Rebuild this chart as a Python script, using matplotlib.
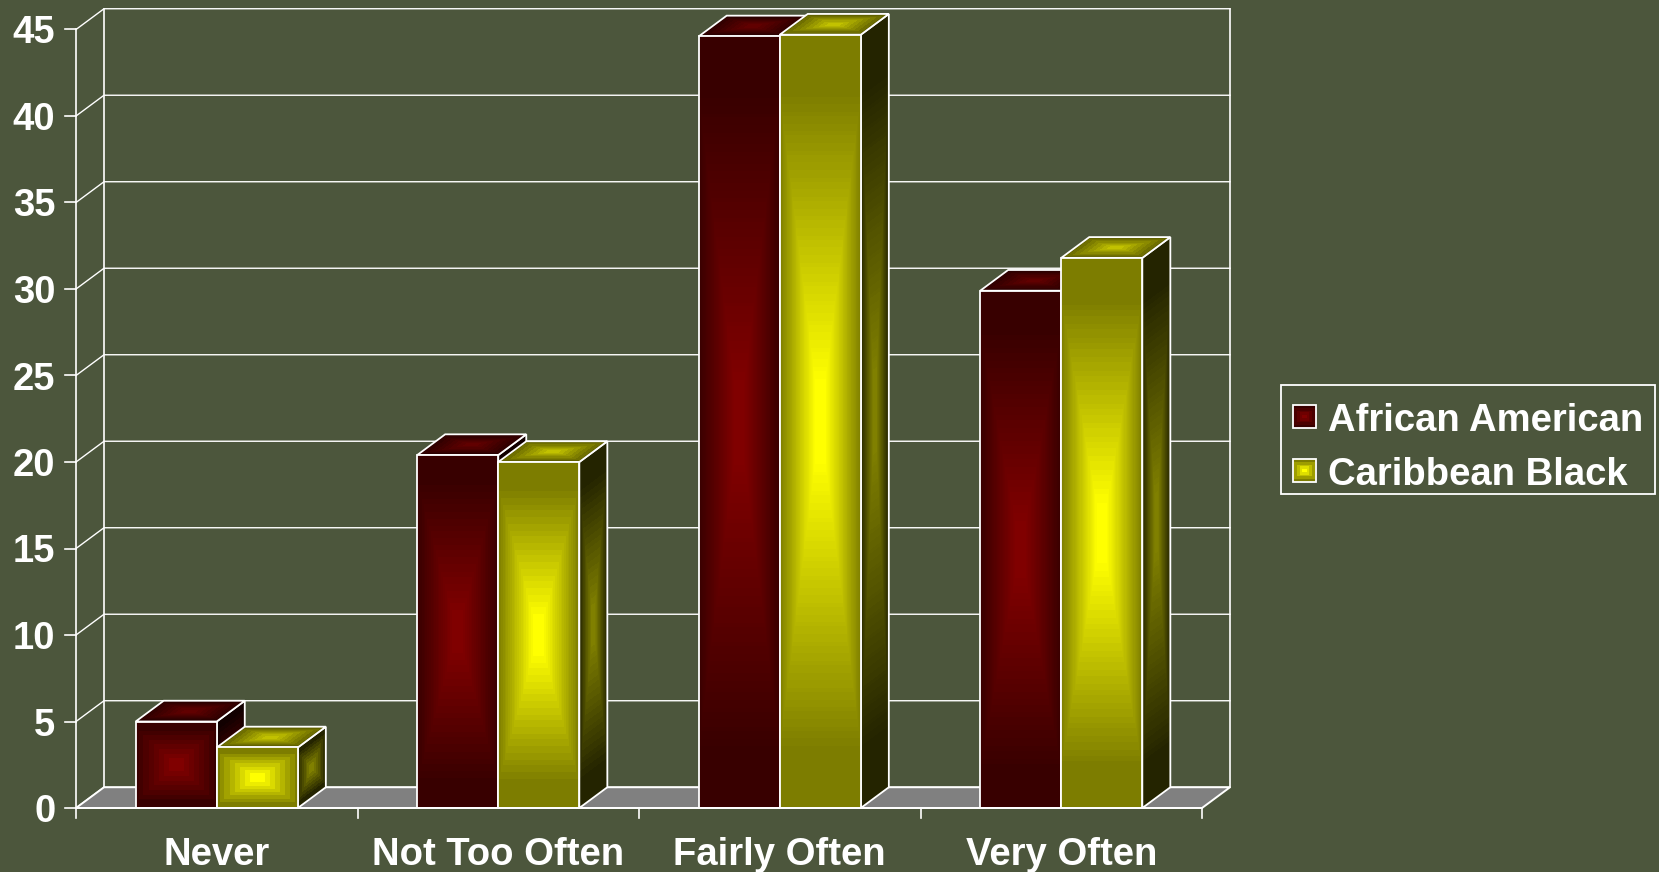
import numpy as np
import matplotlib
matplotlib.use("Agg")
import matplotlib.pyplot as plt
from matplotlib.patches import Polygon, Rectangle

plt.rcParams['font.family'] = ['Liberation Sans', 'DejaVu Sans']

# data
categories = ["Never", "Not Too Often", "Fairly Often", "Very Often"]
african_american = [5.0, 20.4, 44.6, 29.9]
caribbean_black = [3.5, 20.0, 44.7, 31.8]
series_names = ["African American", "Caribbean Black"]
y_ticks = list(range(0, 50, 5))

bg = "#4c563c"
# (edge, middle) colours for front, top and side of the bars
red_front = ((0.22, 0, 0), (0.50, 0, 0))
red_top = ((0.17, 0, 0), (0.38, 0, 0))
red_side = ((0.07, 0, 0), (0.25, 0, 0))
yel_front = ((0.49, 0.49, 0), (1, 1, 0))
yel_top = ((0.38, 0.38, 0), (0.76, 0.76, 0))
yel_side = ((0.14, 0.14, 0), (0.50, 0.50, 0))

W, H = 1659, 872
bar_w = 0.288
depth_x = 0.0995   # wall depth, category units
depth_y = 1.2      # wall depth, value units


def shade(cols, bands=14, n=200):
    # rectangular gradient, bright in the middle, stepped like the original
    u = np.abs(np.linspace(-1, 1, n))
    t = np.maximum(u[None, :], np.minimum(u[:, None] / 0.85, 1))
    t = np.clip((t - 0.12) / 0.88, 0, 1)   # small flat patch in the centre
    t = np.round(t * bands) / bands
    c0, c1 = np.array(cols[0]), np.array(cols[1])
    return c1 + (c0 - c1) * t[..., None]


def face(a, x0, y0, xv, yv, colors, z):
    # draws a parallelogram face with origin (x0, y0) and edges xv, yv
    n = colors.shape[0]
    s, r = np.meshgrid(np.linspace(0, 1, n + 1), np.linspace(0, 1, n + 1))
    X = x0 + s * xv[0] + r * yv[0]
    Y = y0 + s * xv[1] + r * yv[1]
    a.pcolormesh(X, Y, colors, shading='flat', antialiased=False, linewidth=0, zorder=z, clip_on=False)
    pts = [(x0, y0), (x0 + xv[0], y0 + xv[1]), (x0 + xv[0] + yv[0], y0 + xv[1] + yv[1]), (x0 + yv[0], y0 + yv[1])]
    a.add_patch(Polygon(pts, closed=True, fill=False, edgecolor='white', lw=1.3, zorder=z + 0.1, clip_on=False, joinstyle='miter'))


def bar3d(a, x, val, front, top, side, z):
    bands = max(7, int(val))
    face(a, x + bar_w, 0, (depth_x, depth_y), (0, val), shade(side, bands), z)
    face(a, x, val, (bar_w, 0), (depth_x, depth_y), shade(top, 7), z + 0.2)
    face(a, x, 0, (bar_w, 0), (0, val), shade(front, bands), z + 0.4)


fig = plt.figure(figsize=(W / 100, H / 100), dpi=100, facecolor=bg)
ax = fig.add_axes([76 / W, 1 - 808 / H, (1202 - 76) / W, (808 - 29.5) / H])
ax.set_xlim(0, len(categories))
ax.set_ylim(0, 45)
ax.axis('off')

# back wall grid and side wall diagonals
n = len(categories)
for v in y_ticks:
    ax.plot([0, depth_x, n + depth_x], [v, v + depth_y, v + depth_y], color='white', lw=1.0, zorder=1, clip_on=False)
    ax.plot([-0.04, 0], [v, v], color='white', lw=1.2, zorder=1, clip_on=False)
    ax.text(-0.073, v, str(v), color='white', fontsize=27.5, fontweight='bold', ha='right', va='center_baseline', clip_on=False)
ax.plot([0, 0], [0, 45], color='white', lw=1.2, zorder=1, clip_on=False)
ax.plot([depth_x, depth_x], [depth_y, 45 + depth_y], color='white', lw=1.2, zorder=1, clip_on=False)
ax.plot([n + depth_x, n + depth_x], [depth_y, 45 + depth_y], color='white', lw=1.2, zorder=1, clip_on=False)

# floor
ax.add_patch(Polygon([(0, 0), (n, 0), (n + depth_x, depth_y), (depth_x, depth_y)], closed=True, facecolor='#808080',
                     edgecolor='white', lw=1.4, zorder=2, clip_on=False))
for i in range(n + 1):
    ax.plot([i, i], [0, -0.58], color='white', lw=1.2, zorder=2, clip_on=False)

for i, c in enumerate(categories):
    bar3d(ax, i + 0.5 - bar_w, african_american[i], red_front, red_top, red_side, 3 + 2 * i)
    bar3d(ax, i + 0.5, caribbean_black[i], yel_front, yel_top, yel_side, 4 + 2 * i)
    ax.text(i + 0.5, -2.5, c, color='white', fontsize=27.5, fontweight='bold', ha='center', va='center_baseline', clip_on=False)
ax.plot([0, n], [0, 0], color='white', lw=1.4, zorder=30, clip_on=False)

# legend
lg = fig.add_axes([1281 / W, 1 - 494 / H, (1655 - 1281) / W, (494 - 385) / H])
lg.set_xlim(1281, 1655)
lg.set_ylim(494, 385)
lg.axis('off')
lg.add_patch(Rectangle((1281, 385), 374, 109, fill=False, edgecolor='white', lw=1.3, clip_on=False))
for name, cols, yy in zip(series_names, [red_front, yel_front], [416.5, 470.5]):
    face(lg, 1293, yy + 11.5, (23, 0), (0, -23), shade(cols, 4, 16), 3)
    lg.text(1328, yy, name, color='white', fontsize=27.5, fontweight='bold', ha='left', va='center_baseline')

fig.savefig("out.png", dpi=100, facecolor=bg)
